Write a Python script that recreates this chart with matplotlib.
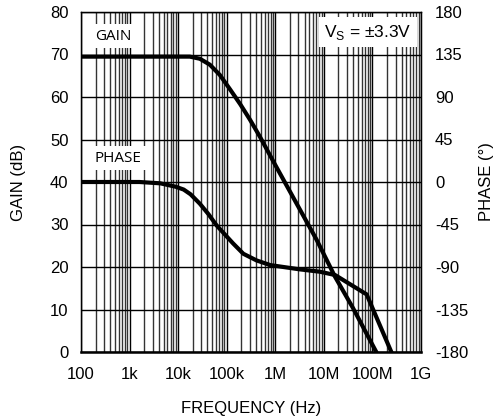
import numpy as np
import matplotlib
matplotlib.use("Agg")
import matplotlib.pyplot as plt
from matplotlib.ticker import FixedLocator, NullFormatter

plt.rcParams['font.family'] = ['Liberation Sans', 'DejaVu Sans']
plt.rcParams['axes.unicode_minus'] = False

# gain curve (Hz, dB)
gain_f = [100, 1.74e4, 2.8e4, 4.5e4, 7.2e4, 1.17e5, 1.9e5, 3.0e5, 4.8e5,
          1e6, 7.1e6, 1.7e7, 4.0e7, 1.2e8]
gain_db = [69.5, 69.5, 69.0, 67.6, 65.2, 61.8, 58.3, 54.7, 50.7,
           44.0, 26.4, 17.7, 10.3, 0]

# phase curve (Hz, degrees)
phase_f = [100, 1.6e3, 4.3e3, 8.9e3, 1.3e4, 1.8e4, 2.8e4, 4.2e4, 6.2e4, 1.35e5,
           2.2e5, 4.1e5, 7.9e5, 3.2e6, 8.3e6, 1.7e7, 7.6e7, 2.45e8]
phase_deg = [0, 0, -1.4, -5, -8, -13, -23, -34, -46, -65,
             -76, -83, -88, -92.5, -95, -98.5, -119, -180]

x_ticks = [1e2, 1e3, 1e4, 1e5, 1e6, 1e7, 1e8, 1e9]
x_labels = ['100', '1k', '10k', '100k', '1M', '10M', '100M', '1G']
gain_ticks = [0, 10, 20, 30, 40, 50, 60, 70, 80]
phase_ticks = [-180, -135, -90, -45, 0, 45, 90, 135, 180]

W, H = 495, 420
fig = plt.figure(figsize=(W / 100, H / 100), dpi=100)
ax = fig.add_axes([81/W, 1-352/H, 340/W, 340/H])
ax.set_xscale('log')
ax.set_xlim(1e2, 1e9)
ax.set_ylim(0, 80)

minors = [m * 10**e for e in range(2, 9) for m in range(2, 10)]
ax.xaxis.set_major_locator(FixedLocator(x_ticks))
ax.xaxis.set_minor_locator(FixedLocator(minors))
ax.xaxis.set_minor_formatter(NullFormatter())
ax.set_xticklabels(x_labels)
ax.set_yticks(gain_ticks)
ax.grid(True, which='major', axis='both', color='black', lw=1.0)
ax.grid(True, which='minor', axis='x', color='#333333', lw=1.0)
ax.tick_params(which='both', length=0, labelsize=12, colors='black')
ax.tick_params(axis='x', pad=10.5)
ax.tick_params(axis='y', pad=9)
for s in ax.spines.values():
    s.set_linewidth(1.0)
ax.spines['bottom'].set_linewidth(1.8)

ax2 = ax.twinx()
ax2.set_ylim(-180, 180)
ax2.set_yticks(phase_ticks)
ax2.tick_params(length=0, labelsize=12, pad=10)

ax.plot(gain_f, gain_db, color='black', lw=3, solid_joinstyle='round', zorder=5)
ax2.plot(phase_f, phase_deg, color='black', lw=3, solid_joinstyle='round', zorder=5)

fig.text(251/W, 1-408/H, 'FREQUENCY (Hz)', fontsize=12, ha='center', va='center')
fig.text(19/W, 1-182/H, 'GAIN (dB)', fontsize=12, rotation=90, ha='center', va='center')
fig.text(486/W, 1-182/H, 'PHASE (°)', fontsize=12, rotation=90, ha='center', va='center')

box = dict(facecolor='white', edgecolor='none', pad=3)
fig.text(113/W, 1-36/H, 'GAIN', family='Open Sans', fontsize=11,
         ha='center', va='center', bbox=box, zorder=10)
fig.text(118/W, 1-158/H, 'PHASE', family='Open Sans', fontsize=11,
         ha='center', va='center', bbox=box, zorder=10)
fig.text(368/W, 1-32/H, r'V$_\mathregular{S}$ = ±3.3V', fontsize=12.5,
         ha='center', va='center', bbox=dict(facecolor='white', edgecolor='none', pad=4),
         zorder=10)

fig.savefig('out.png', dpi=100)
